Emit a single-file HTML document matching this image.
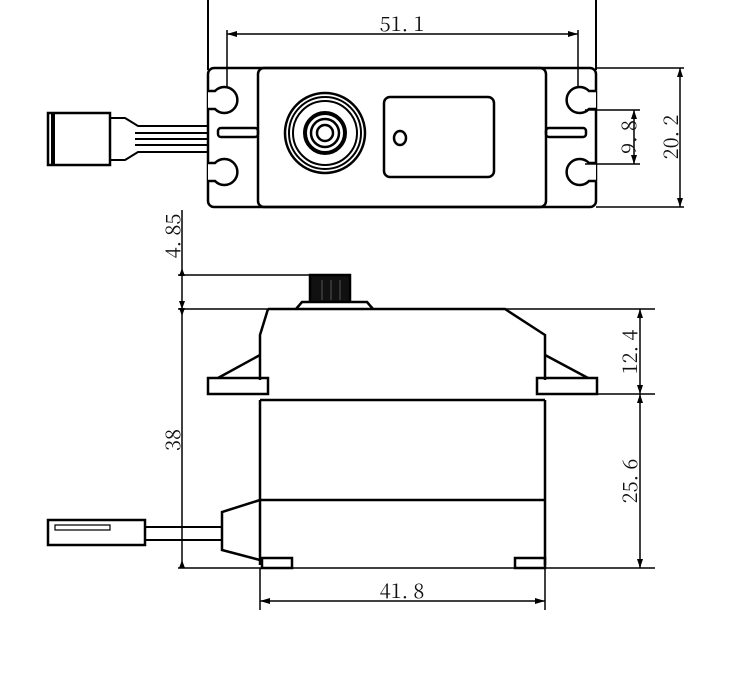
<!DOCTYPE html>
<html><head><style>body{margin:0;background:#fff}svg{display:block}text{font-family:"Noto Serif CJK SC","Liberation Serif",serif;font-size:20px;fill:#111}</style></head>
<body>
<svg width="750" height="695" viewBox="0 0 750 695" fill="none" stroke="#000" stroke-width="2.5">
<!-- TOP VIEW -->
<path d="M208 0V70M596 0V70" stroke-width="2"/>
<path d="M227 30V100M578 30V100" stroke-width="1.5"/>
<path d="M227 34H578" stroke-width="1.5"/>
<path d="M227 34l10 -3v6zM578 34l-10 -3v6z" fill="#000" stroke="none"/>
<text x="402" y="31" text-anchor="middle" stroke="none">51. 1</text>
<rect x="208" y="68" width="388" height="139" rx="6"/>
<rect x="258" y="68" width="288" height="139" rx="6"/>
<!-- ear holes -->
<g fill="#fff">
<path d="M208 91H215A13 13 0 1 1 215 109H208"/>
<path d="M208 163H215A13 13 0 1 1 215 181H208"/>
<path d="M596 91H589A13 13 0 1 0 589 109H596"/>
<path d="M596 163H589A13 13 0 1 0 589 181H596"/>
</g>
<rect x="218" y="128" width="40" height="9" rx="3"/>
<rect x="546" y="128" width="40" height="9" rx="3"/>
<!-- horn -->
<circle cx="325" cy="133" r="40"/><circle cx="325" cy="133" r="36" stroke-width="2"/><circle cx="325" cy="133" r="32" stroke-width="2"/>
<circle cx="325" cy="133" r="20" stroke-width="4"/><circle cx="325" cy="133" r="14"/><circle cx="325" cy="133" r="8"/>
<rect x="384" y="97" width="110" height="80" rx="6"/>
<ellipse cx="400" cy="138" rx="6" ry="7"/>
<!-- connector -->
<rect x="48" y="113" width="62" height="52"/>
<path d="M53 113V165" stroke-width="4"/>
<path d="M110 118H125L138 126H208M110 160H125L138 152H208M135 133H208M135 139H208M135 145H208" stroke-width="2"/>
<!-- dims right -->
<path d="M585 110H640M585 164H640M596 68H684M596 207H684" stroke-width="1.5"/>
<path d="M634 110V164M680 68V207" stroke-width="1.5"/>
<path d="M634 110l-3 9h6zM634 164l-3 -9h6zM680 68l-3 9h6zM680 207l-3 -9h6z" fill="#000" stroke="none"/>
<text transform="translate(636 137) rotate(-90)" text-anchor="middle" stroke="none">9. 8</text>
<text transform="translate(678 137) rotate(-90)" text-anchor="middle" stroke="none">20. 2</text>
<!-- SIDE VIEW -->
<path d="M182 210V568" stroke-width="1.5"/>
<path d="M182 268l-3 8h6zM182 309l-3 -8h6zM182 316l-3 -8h6zM182 560l-3 8h6z" fill="#000" stroke="none"/>
<path d="M178 275H310M178 309H655M178 568H655M597 394H655" stroke-width="1.5"/>
<text transform="translate(180 236) rotate(-90)" text-anchor="middle" stroke="none">4. 85</text>
<text transform="translate(180 440) rotate(-90)" text-anchor="middle" stroke="none">38</text>
<rect x="310" y="275" width="40" height="28" fill="#111"/>
<path d="M322 280V300M331 280V300M340 280V300" stroke="#555" stroke-width="1"/>
<path d="M296 309L302 302H367L373 309" fill="#fff"/>
<path d="M268 309H505L545 335V380M268 309L260 335V380"/>
<path d="M260 355L218 378M545 355L588 378"/>
<rect x="208" y="378" width="60" height="16"/>
<rect x="537" y="378" width="60" height="16"/>
<path d="M260 400H545M260 400V565M545 400V565M260 500H545"/>
<rect x="262" y="558" width="30" height="10"/>
<rect x="515" y="558" width="30" height="10"/>
<path d="M260 500L222 512V550L260 560"/>
<path d="M158 527H222M158 540H222" stroke-width="2"/>
<rect x="48" y="520" width="97" height="25"/>
<path d="M55 525H110V530H55z" stroke-width="1.2"/>
<path d="M145 527H158M145 540H158" stroke-width="2"/>
<path d="M260 568V610M545 568V610M260 601H545" stroke-width="1.5"/>
<path d="M260 601l10 -3v6zM545 601l-10 -3v6z" fill="#000" stroke="none"/>
<text x="402" y="598" text-anchor="middle" stroke="none">41. 8</text>
<path d="M640 309V568" stroke-width="1.5"/>
<path d="M640 309l-3 9h6zM640 394l-3 -9h6zM640 394l-3 9h6zM640 568l-3 -9h6z" fill="#000" stroke="none"/>
<text transform="translate(637 352) rotate(-90)" text-anchor="middle" stroke="none">12. 4</text>
<text transform="translate(637 481) rotate(-90)" text-anchor="middle" stroke="none">25. 6</text>
</svg>
</body></html>
